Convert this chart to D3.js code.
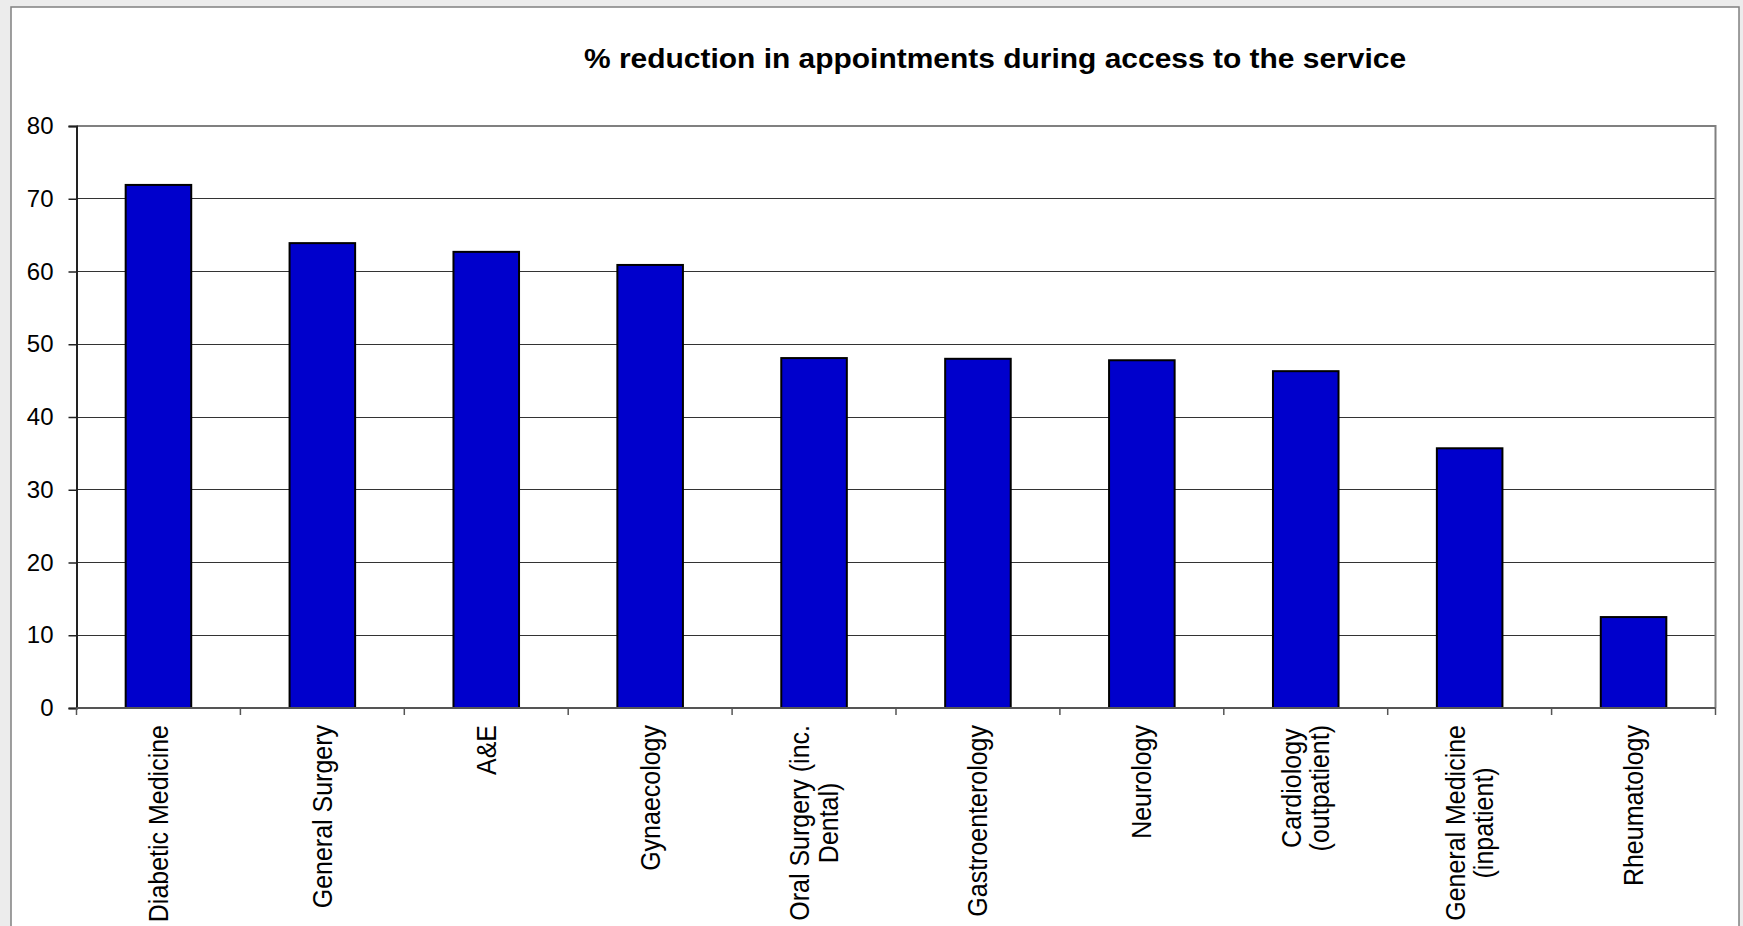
<!DOCTYPE html>
<html>
<head>
<meta charset="utf-8">
<script src="https://cdn.jsdelivr.net/npm/d3@7"></script>
<style>
  html, body { margin: 0; padding: 0; background: #ececec; }
  svg { display: block; }
  text { font-family: "Liberation Sans", Arial, sans-serif; }
</style>
</head>
<body>
<svg id="chart"></svg>
<script>
// % reduction bar chart

const categories = [
  'Diabetic Medicine',
  'General Surgery',
  'A&E',
  'Gynaecology',
  'Oral Surgery (inc.\nDental)',
  'Gastroenterology',
  'Neurology',
  'Cardiology\n(outpatient)',
  'General Medicine\n(inpatient)',
  'Rheumatology'
];
const values = [71.9, 63.9, 62.7, 60.9, 48.1, 48.0, 47.8, 46.3, 35.7, 12.5];
const yTicks = [0, 10, 20, 30, 40, 50, 60, 70, 80];
const title = '% reduction in appointments during access to the service';

const width = 1743;
const height = 926;
const plot = { left: 76.5, right: 1715.5, top: 126, bottom: 708 };

const svg = d3.select('#chart')
  .attr('width', width)
  .attr('height', height);

// chart area (white) with grey frame
svg.append('rect')
  .attr('x', 11)
  .attr('y', 7)
  .attr('width', 1728)
  .attr('height', 940)
  .style('fill', 'white')
  .style('stroke', '#808080')
  .style('stroke-width', '1.5px');

// title
svg.append('text')
  .attr('transform', 'translate(995,68) scale(1.07,1)')
  .attr('text-anchor', 'middle')
  .style('font-size', '28px')
  .style('font-weight', 'bold')
  .style('fill', '#000')
  .text(title);

const x = d3.scaleBand()
  .domain(categories)
  .range([plot.left, plot.right])
  .padding(0);

const y = d3.scaleLinear()
  .domain([0, 80])
  .range([plot.bottom, plot.top]);

// gridlines
svg.append('g')
  .selectAll('line')
  .data(yTicks.filter(d => d > 0 && d < 80))
  .enter()
  .append('line')
  .attr('x1', plot.left)
  .attr('x2', plot.right)
  .attr('y1', d => y(d))
  .attr('y2', d => y(d))
  .style('stroke', '#333')
  .style('stroke-width', '1px')
  .attr('shape-rendering', 'crispEdges');

// top + right frame of plot area
svg.append('path')
  .attr('d', `M${plot.left},${y(80)}H${plot.right}V${y(0)}`)
  .style('fill', 'none')
  .style('stroke', '#808080')
  .style('stroke-width', '2px');

// bars
const barW = x.bandwidth() * 0.4;
svg.append('g')
  .selectAll('rect')
  .data(values)
  .enter()
  .append('rect')
  .attr('x', (d, i) => x(categories[i]) + (x.bandwidth() - barW) / 2)
  .attr('y', d => y(d))
  .attr('width', barW)
  .attr('height', d => y(0) - y(d))
  .style('fill', '#0000cc')
  .style('stroke', '#000')
  .style('stroke-width', '2px');

// y axis
const yAxis = d3.axisLeft(y)
  .tickValues(yTicks)
  .tickSize(8)
  .tickPadding(15)
  .tickFormat(d3.format('d'));

const yg = svg.append('g')
  .attr('transform', `translate(${plot.left},0)`)
  .call(yAxis);
yg.select('.domain').style('stroke', '#222').style('stroke-width', '2px');
yg.selectAll('.tick line').style('stroke', '#222').style('stroke-width', '1.5px');
yg.selectAll('.tick text')
  .style('font-size', '24px')
  .style('font-family', '"Liberation Sans", Arial, sans-serif')
  .style('fill', '#000');

// x axis line + ticks at category boundaries
const bounds = categories.map(c => x(c)).concat([plot.right]);
svg.append('line')
  .attr('x1', plot.left)
  .attr('x2', plot.right)
  .attr('y1', y(0))
  .attr('y2', y(0))
  .style('stroke', '#555')
  .style('stroke-width', '2px');

svg.append('g')
  .selectAll('line')
  .data(bounds)
  .enter()
  .append('line')
  .attr('x1', d => d)
  .attr('x2', d => d)
  .attr('y1', y(0))
  .attr('y2', y(0) + 7)
  .style('stroke', '#555')
  .style('stroke-width', '1.5px');

// category labels, rotated, top aligned, lines centred in the block
// (slight sideways stretch, like the source picture)
const lineH = 26;
const labels = svg.append('g')
  .selectAll('g')
  .data(categories)
  .enter()
  .append('g')
  .attr('transform', d => `translate(${x(d) + x.bandwidth() / 2},${y(0) + 17}) scale(1.08,1) rotate(-90)`);

labels.each(function(d) {
  const g = d3.select(this);
  const lines = d.split('\n');
  const texts = lines.map((ln, i) => g.append('text')
    .attr('text-anchor', 'middle')
    .attr('y', (i - (lines.length - 1) / 2) * lineH)
    .attr('dy', '0.35em')
    .style('font-size', '25px')
    .style('fill', '#000')
    .text(ln));
  const maxW = d3.max(texts, t => t.node().getComputedTextLength());
  texts.forEach(t => t.attr('x', -maxW / 2));
});
</script>
</body>
</html>
